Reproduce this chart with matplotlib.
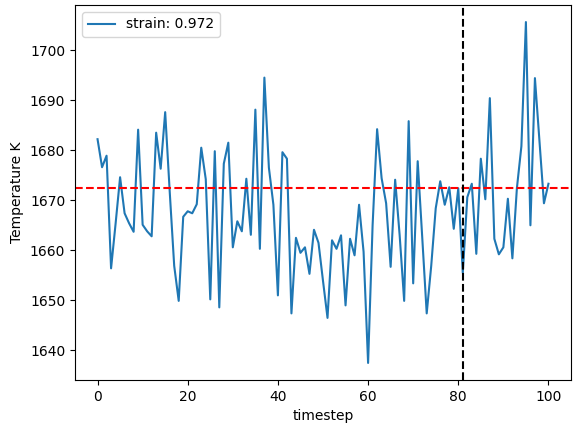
import matplotlib
matplotlib.use("Agg")
import matplotlib.pyplot as plt
import numpy as np

timesteps = list(range(101))
temperature = [
    1682.2, 1676.6, 1678.9, 1656.4, 1665.3, 1674.6, 1667.4, 1665.4, 1663.7, 1684.1,
    1665.1, 1663.8, 1662.8, 1683.5, 1676.3, 1687.6, 1671.8, 1656.9, 1649.9, 1666.7,
    1667.8, 1667.4, 1669.2, 1680.5, 1674.2, 1650.2, 1679.8, 1648.6, 1677.3, 1681.5,
    1660.6, 1665.8, 1663.8, 1674.3, 1663.1, 1688.1, 1660.3, 1694.5, 1676.5, 1669.1,
    1651.0, 1679.6, 1678.3, 1647.4, 1662.5, 1659.5, 1660.6, 1655.3, 1664.1, 1661.5,
    1653.9, 1646.5, 1662.0, 1660.3, 1663.0, 1649.0, 1662.3, 1659.0, 1669.1, 1659.7,
    1637.5, 1665.0, 1684.2, 1674.4, 1669.4, 1656.7, 1674.1, 1663.0, 1649.9, 1685.8,
    1653.4, 1677.8, 1662.7, 1647.4, 1656.9, 1668.4, 1673.8, 1669.1, 1672.6, 1664.3,
    1672.4, 1655.5, 1670.6, 1673.3, 1659.3, 1678.3, 1670.2, 1690.4, 1662.3, 1659.2,
    1660.6, 1670.3, 1658.4, 1672.4, 1680.8, 1705.6, 1665.0, 1694.4, 1681.9, 1669.4,
    1673.3,
]
strain_label = "strain: 0.972"
mean_level = 1672.5
marker_step = 81

fig = plt.figure(figsize=(5.81, 4.33), dpi=100)
ax = fig.add_axes([75/581, 53/433, 496/581, 375/433])
ax.plot(timesteps, temperature, color="#1f77b4", label=strain_label)
ax.axhline(mean_level, color="red", linestyle="--")
ax.axvline(marker_step, color="black", linestyle="--")
ax.set_xlabel("timestep")
ax.set_ylabel("Temperature K")
ax.legend(loc="upper left")
fig.savefig("out.png", dpi=100)
